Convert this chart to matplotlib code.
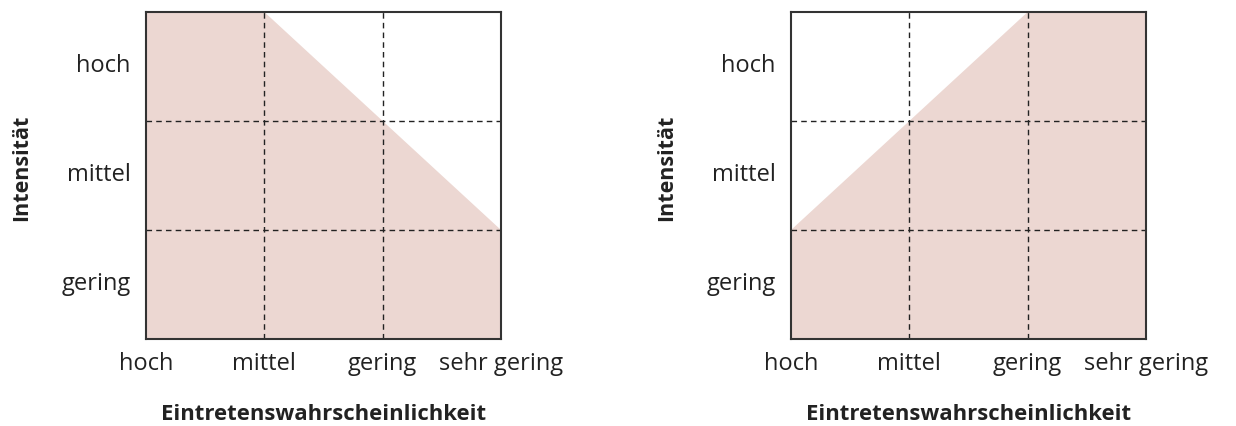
import matplotlib
matplotlib.use("Agg")
import matplotlib.pyplot as plt
import matplotlib.transforms as mtransforms
from matplotlib.patches import Polygon

plt.rcParams['font.family'] = ['Open Sans', 'DejaVu Sans']

x_labels = ["hoch", "mittel", "gering", "sehr gering"]
y_labels = ["gering", "mittel", "hoch"]
x_title = "Eintretenswahrscheinlichkeit"
y_title = "Intensität"

# boundary polygons (in grid units: x 0..3, y 0..3)
left_poly_x = [0, 0, 1, 3, 3]
left_poly_y = [0, 3, 3, 1, 0]
right_poly_x = [0, 0, 2, 3, 3]
right_poly_y = [0, 1, 3, 3, 0]

fill_color = "#ecd7d2"

fig = plt.figure(figsize=(12.36, 4.27), dpi=100)
ax_pos = [[146/1236, 1-340/427, 355/1236, 327/427],
          [791/1236, 1-340/427, 355/1236, 327/427]]
polys = [(left_poly_x, left_poly_y), (right_poly_x, right_poly_y)]

for pos, (px, py) in zip(ax_pos, polys):
    ax = fig.add_axes(pos)
    ax.set_xlim(0, 3)
    ax.set_ylim(0, 3)
    ax.add_patch(Polygon(list(zip(px, py)), closed=True, facecolor=fill_color,
                         edgecolor="none", zorder=1))
    for v in [1, 2]:
        ax.axvline(v, color="#222222", lw=1.0, ls=(0, (4, 3)), zorder=2)
        ax.axhline(v, color="#222222", lw=1.0, ls=(0, (4, 3)), zorder=2)
    for s in ax.spines.values():
        s.set_color("#333333")
        s.set_linewidth(1.5)
        s.set_zorder(3)
    ax.set_xticks(range(len(x_labels)))
    ax.set_xticklabels(x_labels, fontsize=17, color="#222222")
    ax.set_yticks([0.5, 1.5, 2.5])
    ax.set_yticklabels(y_labels, fontsize=17, color="#222222")
    ax.tick_params(length=0, pad=9)
    ax.tick_params(axis='y', pad=11)
    shift = mtransforms.ScaledTranslation(0, 3/72, fig.dpi_scale_trans)
    for lbl in ax.get_yticklabels():
        lbl.set_transform(lbl.get_transform() + shift)
    ax.set_xlabel(x_title, fontsize=15.9, fontweight="bold", color="#222222")
    ax.xaxis.set_label_coords(0.5, -(415 - 340) / 327)
    ax.xaxis.label.set_va("center")
    ax.set_ylabel(y_title, fontsize=15.5, fontweight="bold", color="#222222")
    ax.yaxis.set_label_coords(-(146 - 22) / 355, (340 - 168) / 327)
    ax.yaxis.label.set_va("center")

fig.savefig("out.png", dpi=100)
